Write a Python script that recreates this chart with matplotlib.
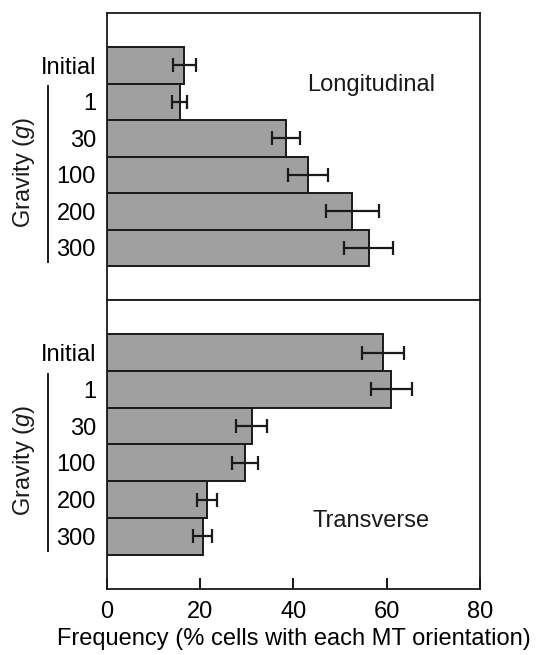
import numpy as np
import matplotlib
matplotlib.use("Agg")
import matplotlib.pyplot as plt
import matplotlib.transforms as mtransforms

plt.rcParams['font.family'] = ['Liberation Sans', 'DejaVu Sans']
plt.rcParams['mathtext.fontset'] = 'custom'
plt.rcParams['mathtext.it'] = 'Liberation Sans:italic'
plt.rcParams['mathtext.rm'] = 'Liberation Sans'

# data
categories = ["Initial", "1", "30", "100", "200", "300"]
long_mean = [16.6, 15.6, 38.4, 43.1, 52.6, 56.1]
long_err = [2.5, 1.6, 3.1, 4.2, 5.7, 5.2]
trans_mean = [59.2, 61.0, 31.0, 29.6, 21.4, 20.5]
trans_err = [4.6, 4.4, 3.3, 2.7, 2.1, 2.1]
panel_titles = ["Longitudinal", "Transverse"]
xticks = [0, 20, 40, 60, 80]

fig = plt.figure(figsize=(5.39, 6.55), dpi=100)
ax_top = fig.add_axes([0.1985, 0.542, 0.692, 0.438])
ax_bot = fig.add_axes([0.1985, 0.1008, 0.692, 0.4412])

ypos = np.arange(len(categories))
fs = 17

for ax, vals, errs, title, ty in [
    (ax_top, long_mean, long_err, panel_titles[0], -0.5 + (85 - 47) / 36.5),
    (ax_bot, trans_mean, trans_err, panel_titles[1], -0.5 + (520 - 335) / 36.5),
]:
    ax.barh(ypos, vals, height=1.0, color='#a0a0a0', edgecolor='#1a1a1a', linewidth=1.4, zorder=2)
    ax.errorbar(vals, ypos, xerr=errs, fmt='none', ecolor='#1a1a1a', elinewidth=1.6,
                capsize=5, capthick=1.6, zorder=3)
    ax.set_xlim(0, 80)
    ax.set_ylim(6.43, -1.43)
    ax.set_yticks(ypos)
    ax.set_yticklabels(categories, fontsize=fs)
    ax.tick_params(axis='y', length=0, pad=8)
    for s in ax.spines.values():
        s.set_linewidth(1.3)
        s.set_color('#1a1a1a')
    ax.text(56.7, ty, title, fontsize=fs, ha='center', va='center', color='#1a1a1a')

    # group bracket and label for gravity levels
    trans = mtransforms.blended_transform_factory(ax.transAxes, ax.transData)
    ax.plot([-0.159, -0.159], [0.57, 5.39], transform=trans, color='#1a1a1a',
            linewidth=1.4, clip_on=False)
    ax.text(-0.222, 2.95, 'Gravity ($\\mathit{g}$)', transform=trans, rotation=90,
            fontsize=fs, ha='center', va='center', color='#1a1a1a')

ax_top.set_xticks([])
ax_bot.set_xticks(xticks)
ax_bot.set_xticklabels([str(t) for t in xticks], fontsize=fs)
ax_bot.tick_params(axis='x', direction='in', length=8, width=1.3, pad=9)
ax_bot.set_xlabel('Frequency (% cells with each MT orientation)', fontsize=fs, labelpad=3)

fig.savefig('out.png', dpi=100)
